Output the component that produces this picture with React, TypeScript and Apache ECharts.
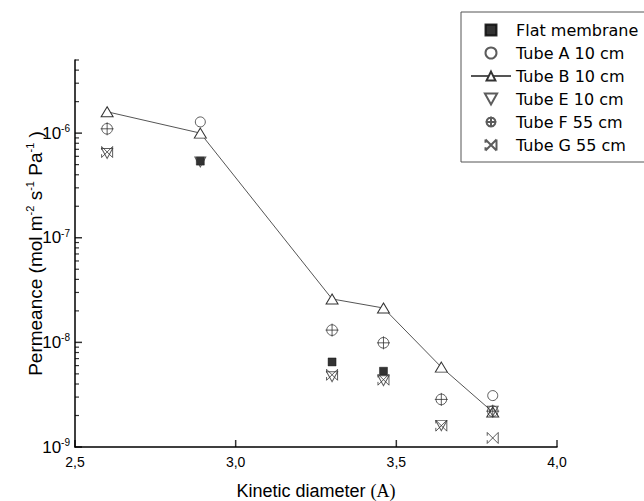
import React, { useEffect, useRef } from 'react';
import * as echarts from 'echarts';

const diameters = [2.6, 2.89, 3.3, 3.46, 3.64, 3.8];
const flatMembrane = [null, 5.4e-7, 6.5e-9, 5.3e-9, null, null];
const tubeA = [null, 1.28e-6, null, null, null, 3.1e-9];
const tubeB = [1.6e-6, 1.0e-6, 2.6e-8, 2.13e-8, 5.8e-9, 2.16e-9];
const tubeE = [6.4e-7, 5.3e-7, 4.7e-9, 4.3e-9, 1.6e-9, 2.2e-9];
const tubeF = [1.1e-6, null, 1.31e-8, 9.9e-9, 2.85e-9, 2.2e-9];
const tubeG = [6.6e-7, null, 4.9e-9, 4.4e-9, 1.6e-9, 1.22e-9];

const xMin = 2.5;
const xMax = 4.0;
const xTickValues = [2.5, 3.0, 3.5, 4.0];
const yMajorTicks = [1e-9, 1e-8, 1e-7, 1e-6];
const yMinorTicks = [
  2e-9, 3e-9, 4e-9, 5e-9, 6e-9, 7e-9, 8e-9, 9e-9,
  2e-8, 3e-8, 4e-8, 5e-8, 6e-8, 7e-8, 8e-8, 9e-8,
  2e-7, 3e-7, 4e-7, 5e-7, 6e-7, 7e-7, 8e-7, 9e-7,
  2e-6, 3e-6, 4e-6, 5e-6,
];
const yMin = 1e-9;
const yMax = 5e-6;

const pairs = (vals: (number | null)[]) =>
  diameters.map((x, i) => (vals[i] == null ? null : [x, vals[i]])).filter((p) => p != null);

const SANS = 'Liberation Sans, Arial, sans-serif';
const LEG = 'DejaVu Sans, sans-serif';

const square = 'path://M0,0 L10,0 L10,10 L0,10 Z';
const downTri = 'path://M0,0 L10,0 L5,9 Z';
const crossCircle =
  'path://M5,0.5 A4.5,4.5 0 1 1 4.99,0.5 Z M5,-0.5 L5,10.5 M-0.5,5 L10.5,5';
const bowX = 'path://M0,0 L10,10 M0,10 L10,0 M10,0 L10,10 M0,0 L0,3 M0,10 L0,7';

const openStyle = { color: '#fff', borderColor: '#333', borderWidth: 1 };

const isPow10 = (v: number) => {
  const e = Math.round(Math.log10(v));
  return Math.abs(v - Math.pow(10, e)) / v < 1e-6;
};

const tickSeries = (name: string, data: number[][], size: number[], offset: number[]) => ({
  name,
  type: 'scatter',
  silent: true,
  clip: false,
  z: 3,
  data,
  symbol: 'rect',
  symbolSize: size,
  symbolOffset: offset,
  itemStyle: { color: '#000', borderWidth: 0 },
});

export default function App() {
  const ref = useRef<HTMLDivElement>(null);
  useEffect(() => {
    if (!ref.current) return;
    const chart = echarts.init(ref.current, null, { renderer: 'svg' });
    const option: any = {
      animation: false,
      backgroundColor: '#fff',
      grid: { left: 75, right: 87, top: 60, bottom: 54, containLabel: false, outerBoundsMode: 'none' },
      legend: {
        orient: 'vertical',
        left: 461,
        top: 12,
        padding: [10, 10, 9, 9],
        borderColor: '#555',
        borderWidth: 1,
        itemWidth: 40,
        itemHeight: 11,
        itemGap: 7,
        textStyle: { fontFamily: LEG, fontSize: 16, color: '#000', lineHeight: 16 },
        data: ['Flat membrane', 'Tube A 10 cm', 'Tube B 10 cm', 'Tube E 10 cm', 'Tube F 55 cm', 'Tube G 55 cm'],
      },
      xAxis: {
        type: 'value',
        min: xMin,
        max: xMax,
        interval: 0.5,
        name: 'Kinetic diameter {s|(A)}',
        nameLocation: 'middle',
        nameGap: 35,
        nameMoveOverlap: false,
        nameTextStyle: {
          fontFamily: SANS,
          fontSize: 18,
          color: '#000',
          rich: { s: { fontFamily: 'Liberation Serif, Times New Roman, serif', fontSize: 18, color: '#000' } },
        },
        axisLine: { show: true, lineStyle: { color: '#000', width: 1.5 } },
        axisTick: { show: false },
        axisLabel: {
          margin: 8,
          fontFamily: SANS,
          fontSize: 14,
          color: '#000',
          formatter: (v: number) => v.toFixed(1).replace('.', ','),
        },
        splitLine: { show: false },
      },
      yAxis: {
        type: 'log',
        logBase: 10,
        min: yMin,
        max: yMax,
        name: '{n|Permeance (mol m}{s|-2}{n| s}{s|-1}{n| Pa}{s|-1}{n| )}',
        nameLocation: 'middle',
        nameGap: 29,
        nameRotate: 90,
        nameMoveOverlap: false,
        nameTextStyle: {
          color: '#000',
          rich: {
            n: { fontFamily: SANS, fontSize: 19, color: '#000', lineHeight: 22 },
            s: { fontFamily: SANS, fontSize: 11, color: '#000', lineHeight: 11, verticalAlign: 'top' },
          },
        },
        axisLine: { show: true, lineStyle: { color: '#000', width: 1.5 } },
        axisTick: { show: false },
        axisLabel: {
          margin: 5,
          color: '#000',
          showMaxLabel: false,
          formatter: (v: number) => {
            if (!isPow10(v)) return '';
            const e = Math.round(Math.log10(v));
            return `{b|10}{s|${e}}`;
          },
          rich: {
            b: { fontFamily: SANS, fontSize: 17, color: '#000', lineHeight: 19 },
            s: { fontFamily: SANS, fontSize: 10, color: '#000', lineHeight: 10, verticalAlign: 'top' },
          },
        },
        splitLine: { show: false },
      },
      series: [
        tickSeries('y major ticks', yMajorTicks.map((v) => [xMin, v]), [7, 1.5], [3.5, 0]),
        tickSeries('y minor ticks', yMinorTicks.map((v) => [xMin, v]), [4, 1.2], [2, 0]),
        tickSeries('x ticks', xTickValues.map((v) => [v, yMin]), [1.5, 7], [0, -3.5]),
        {
          name: 'Flat membrane',
          type: 'scatter',
          data: pairs(flatMembrane),
          symbol: square,
          symbolSize: 8,
          itemStyle: { color: '#000', borderColor: '#000', borderWidth: 0.5 },
          z: 5,
        },
        {
          name: 'Tube A 10 cm',
          type: 'scatter',
          data: pairs(tubeA),
          symbol: 'circle',
          symbolSize: 10,
          itemStyle: openStyle,
          z: 5,
        },
        {
          name: 'Tube B 10 cm',
          type: 'line',
          data: pairs(tubeB),
          symbol: 'triangle',
          symbolSize: [12, 10],
          showAllSymbol: true,
          lineStyle: { color: '#555', width: 1 },
          itemStyle: openStyle,
          z: 4,
        },
        {
          name: 'Tube E 10 cm',
          type: 'scatter',
          data: pairs(tubeE),
          symbol: downTri,
          symbolSize: [11, 10],
          itemStyle: { color: 'rgba(255,255,255,0)', borderColor: '#333', borderWidth: 1 },
          z: 5,
        },
        {
          name: 'Tube F 55 cm',
          type: 'scatter',
          data: pairs(tubeF),
          symbol: crossCircle,
          symbolSize: 13,
          itemStyle: { color: 'rgba(255,255,255,0)', borderColor: '#333', borderWidth: 1 },
          z: 5,
        },
        {
          name: 'Tube G 55 cm',
          type: 'scatter',
          data: pairs(tubeG),
          symbol: bowX,
          symbolSize: 11,
          itemStyle: { color: 'rgba(255,255,255,0)', borderColor: '#333', borderWidth: 1 },
          z: 5,
        },
      ],
    };
    chart.setOption(option);
    return () => chart.dispose();
  }, []);
  return (
    <div
      ref={ref}
      style={{ position: 'absolute', left: 0, top: 0, width: 644, height: 501, background: '#fff' }}
    />
  );
}
